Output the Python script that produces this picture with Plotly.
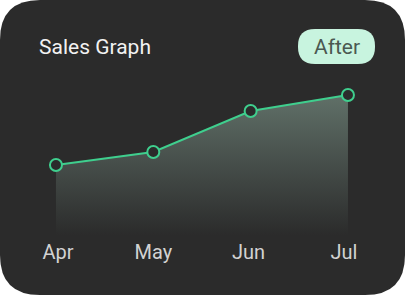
import plotly.graph_objects as go

months = ["Apr", "May", "Jun", "Jul"]
sales = [70, 83, 124, 140]

W, H = 405, 296
B = 61  # bottom margin
PH = H - B

def px(x):
    return x / W

def py(y):
    return (PH - y) / PH

def rounded_path(x0, y0, x1, y1, r):
    pts = []
    pts.append(f"M {px(x0+r)},{py(y0)}")
    pts.append(f"L {px(x1-r)},{py(y0)}")
    pts.append(f"Q {px(x1)},{py(y0)} {px(x1)},{py(y0+r)}")
    pts.append(f"L {px(x1)},{py(y1-r)}")
    pts.append(f"Q {px(x1)},{py(y1)} {px(x1-r)},{py(y1)}")
    pts.append(f"L {px(x0+r)},{py(y1)}")
    pts.append(f"Q {px(x0)},{py(y1)} {px(x0)},{py(y1-r)}")
    pts.append(f"L {px(x0)},{py(y0+r)}")
    pts.append(f"Q {px(x0)},{py(y0)} {px(x0+r)},{py(y0)}")
    pts.append("Z")
    return " ".join(pts)

CARD = "#2b2b2b"
LINE = "#3fcf8e"

idx = list(range(len(months)))

fig = go.Figure()
fig.add_trace(go.Scatter(
    x=idx, y=sales,
    mode="lines+markers",
    line=dict(color=LINE, width=2),
    marker=dict(size=12, color=CARD, line=dict(color=LINE, width=2)),
    fill="tozeroy",
    fillgradient=dict(type="vertical", start=0, stop=140,
                      colorscale=[[0, "rgba(43,43,43,1)"], [1, "rgba(96,112,104,1)"]]),
    hoverinfo="skip",
    cliponaxis=False,
))
# invisible trace carrying the month label axis
fig.add_trace(go.Scatter(x=idx, y=sales, xaxis="x2", mode="markers",
                         marker=dict(opacity=0), hoverinfo="skip"))

fig.add_shape(type="path", xref="paper", yref="paper",
              path=rounded_path(0, 0, 405, 295, 40),
              fillcolor=CARD, line=dict(width=0), layer="below")
fig.add_shape(type="path", xref="paper", yref="paper",
              path=rounded_path(298, 29, 375, 64, 17),
              fillcolor="#c8f4df", line=dict(width=0), layer="above")

fig.add_annotation(xref="paper", yref="paper", x=px(37), y=py(47),
                   xanchor="left", yanchor="middle", text="Sales Graph",
                   showarrow=False, font=dict(family="Roboto", size=21, color="#f2f2f2"))
fig.add_annotation(xref="paper", yref="paper", x=px(336.5), y=py(46.5),
                   xanchor="center", yanchor="middle", text="After",
                   showarrow=False, font=dict(family="Roboto", size=21, color="#4b5851"))

fig.update_layout(
    width=W, height=H,
    margin=dict(l=0, r=0, t=0, b=B, pad=0),
    paper_bgcolor="white", plot_bgcolor="rgba(0,0,0,0)",
    showlegend=False,
    xaxis=dict(range=[-0.575, 3.586], showticklabels=False,
               showgrid=False, zeroline=False, showline=False, ticks="",
               fixedrange=True),
    xaxis2=dict(range=[-58 / 95.3, (405 - 58) / 95.3], overlaying="x", side="bottom",
                anchor="y", tickmode="array", tickvals=idx, ticktext=months,
                showgrid=False, zeroline=False, showline=False, ticks="",
                ticklabelstandoff=3,
                tickfont=dict(family="Roboto", size=20, color="#d2d2d2"),
                fixedrange=True),
    yaxis=dict(range=[0, PH], visible=False, fixedrange=True),
)

fig.write_html("out.html", config={"displayModeBar": False})
